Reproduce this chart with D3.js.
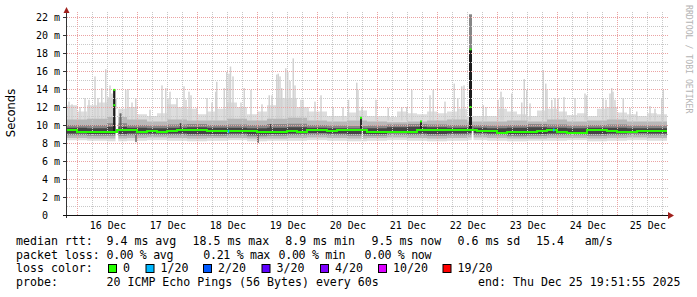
<!DOCTYPE html>
<html>
<head>
<meta charset="utf-8">
<script src="https://cdn.jsdelivr.net/npm/d3@7"></script>
<style>
  body { margin: 0; background: #fff; }
  text { font-family: "DejaVu Sans Mono", monospace; white-space: pre; }
</style>
</head>
<body>
<svg id="chart" width="697" height="297"></svg>
<script>
var startMs = Date.UTC(2025, 11, 15, 19, 51, 55);
var endMs = Date.UTC(2025, 11, 25, 19, 51, 55);
var HOUR = 3600e3;

// sorted ping ranks (ms), one sample every 8 h
var pingLow = [8.3,8.25,8.2,8.25,8.3,8.25,8.2,8.25,8.3,8.2, 8.25,8.25,8.3,8.25,8.2,8.25,8.3,8.25,8.2,8.25, 8.3,8.25,8.2,8.25,8.25,8.3,8.2,8.25,8.3,8.25];
var ping3 = [8.55,8.5,8.5,8.55,8.6,8.55,8.5,8.55,8.55,8.5, 8.5,8.55,8.6,8.55,8.5,8.55,8.6,8.55,8.5,8.55, 8.6,8.55,8.5,8.5,8.55,8.55,8.5,8.55,8.6,8.55];
var ping6 = [8.85,8.8,8.8,8.85,8.85,8.85,8.8,8.8,8.85,8.75, 8.8,8.85,8.9,8.85,8.8,8.8,8.9,8.85,8.8,8.85, 8.9,8.85,8.75,8.8,8.85,8.85,8.8,8.85,8.9,8.85];
var ping8 = [9.05,9.0,9.0,9.05,9.05,9.05,9.0,9.0,9.05,8.95, 9.0,9.05,9.1,9.05,9.0,9.0,9.1,9.05,9.0,9.05, 9.1,9.05,8.95,9.0,9.05,9.05,9.0,9.05,9.1,9.05];
var ping12 = [9.7,9.65,9.8,9.7,9.65,9.7,9.75,9.7,9.7,9.65, 9.7,9.75,9.7,9.65,9.6,9.65,9.75,9.8,9.75,9.7, 9.7,9.65,9.7,9.75,9.7,9.65,9.7,9.7,9.65,9.65];
var ping14 = [10.0,10.0,10.2,10.0,9.95,10.05,10.1,10.0,10.05,10.0, 10.1,10.15,10.0,9.95,9.9,9.95,10.05,10.1,10.05,10.0, 10.0,9.95,10.0,10.1,10.05,9.95,10.0,10.05,9.95,9.95];
var ping17 = [10.6,10.7,10.9,10.6,10.4,10.6,10.5,10.5,10.7,10.5, 10.7,10.8,10.5,10.4,10.5,10.4,10.3,10.4,10.5,10.6, 10.4,10.4,10.5,10.4,10.6,10.4,10.5,10.6,10.4,10.4];

// highest ping (ms), one sample every 4 h
var pingHigh = [12.2,11.5,12.2,12.5,13.0,11.8,12.0,11.2,11.0,11.3,
                12.3,12.0,11.8,11.2,11.5,11.8,12.5,12.0,11.2,11.5,
                12.2,13.0,13.0,12.0,11.5,11.5,11.0,11.0,11.4,11.6,
                11.0,11.0,10.9,11.5,11.3,11.2,11.5,11.3,11.5,11.8,
                11.0,11.0,11.0,11.8,11.5,11.2,11.0,11.6,11.8,11.5,
                11.1,11.3,11.0,11.8,12.0,11.4,11.2,11.0,11.3,11.2];

// median rtt (ms), one sample every 4 h
var median = [9.42,9.22,9.25,9.2,9.22,9.48,9.4,9.25,9.28,9.25,
              9.3,9.42,9.45,9.4,9.38,9.32,9.3,9.28,9.3,9.18,
              9.2,9.25,9.28,9.25,9.4,9.42,9.38,9.4,9.42,9.4,
              9.22,9.2,9.25,9.2,9.22,9.45,9.48,9.45,9.48,9.45,
              9.42,9.35,9.38,9.15,9.18,9.25,9.25,9.3,9.45,9.25,
              9.1,9.15,9.4,9.4,9.38,9.2,9.22,9.35,9.35,9.35];

// short max-ping spikes: hours after start, ms
var spikeHour = [0.8,2.0,5.2,7.2,8.8,11.2,12.4,13.9,15.5,16.4, 17.2,18.0,23.5,24.4,26.0,27.5,33.2,38.0,39.5,40.4,
                 41.2,44.0,46.8,47.6,48.8,49.6,52.0,56.0,58.0,59.5, 59.9,62.9,63.9,64.8,65.4,66.4,69.6,70.9,73.6,78.0,
                 80.9,82.0,83.9,84.5,85.2,85.9,87.5,88.3,89.2,90.5, 91.2,93.6,94.4,96.4,99.2,101.6,106.4,110.4,112.6,115.9,
                 116.4,118.0,123.6,128.5,133.9,135.9,137.9,145.2,146.5,151.2, 154.9,156.3,157.9,158.8,166.5,167.6,172.4,173.6,174.4,177.9,
                 181.9,182.9,183.9,185.2,190.5,191.5,192.0,193.9,195.2,196.4, 198.8,203.2,207.2,207.9,214.4,215.6,217.2,217.9,218.4,219.2,
                 222.5,225.2,227.9,233.2,235.2,237.9,238.5];
var spikeRtt = [12.6,12.3,12.0,13.0,12.8,15.4,13.0,14.1,16.2,13.1, 14.4,13.5,13.9,14.0,12.5,13.0,11.7,14.4,14.1,13.0,
                13.7,13.0,14.3,12.8,13.7,13.3,11.9,13.0,12.5,13.7, 14.8,14.1,15.9,15.7,16.5,15.4,12.5,14.1,13.9,12.3,
                13.3,13.3,15.6,15.7,15.4,14.1,16.3,15.9,14.9,17.4, 14.4,12.8,12.8,12.0,12.6,13.3,12.0,12.0,12.8,14.7,
                13.9,12.0,12.8,11.9,12.0,12.0,13.9,13.3,13.9,12.6, 14.6,13.0,14.3,14.4,12.2,12.0,12.8,13.7,13.1,13.5,
                12.5,15.1,13.9,12.4,16.1,14.6,13.9,12.8,13.0,13.0, 13.1,13.0,13.5,13.3,13.0,12.8,13.5,14.1,13.7,12.8,
                13.0,11.9,11.5,12.1,11.8,13.0,13.9];

// bursts where many pings sit in one range
var burstHour = [18.9, 21.4, 27.6, 45.4, 76.4, 81.4, 117.6, 141.6, 161.4, 161.4];
var burstSpan = [0.9, 0.8, 0.6, 0.6, 0.6, 0.6, 0.7, 0.7, 1.2, 1.2];
var burstLow  = [9.3, 9.6, 8.1, 9.5, 8.0, 9.5, 9.6, 9.6, 9.6, 18.4];
var burstHigh = [13.9, 11.3, 9.2, 10.2, 9.2, 10.1, 10.9, 10.4, 18.4, 22.3];
var burstPings = [20, 12, 12, 16, 14, 16, 20, 20, 20, 9];
var burstMedHour = [18.9, 18.9, 117.6, 141.6, 161.4, 161.4];
var burstMedRtt  = [13.9, 12.2, 10.8, 10.4, 18.4, 12.0];

// no data
var gapFrom = [19.4, 117.9, 161.9];
var gapTo   = [20.5, 118.4, 162.6];
var gapLow  = [7.9, 7.9, 7.9];
var gapHigh = [11.8, 9.6, 9.6];

// samples with loss
var lossHour = [64.3, 194.4];
var lossOf20 = [1, 1];

var lossLabels = ["0", "1/20", "2/20", "3/20", "4/20", "10/20", "19/20"];
var lossColors = ["#26ff00", "#00b8ff", "#0059ff", "#5e00ff", "#7e00ff", "#dd00ff", "#ff0000"];
var rttLegend = ["9.4 ms avg", "18.5 ms max", "8.9 ms min", "9.5 ms now", "0.6 ms sd", "15.4   am/s"];
var lossLegend = ["0.00 % avg", "0.21 % max", "0.00 % min", "0.00 % now"];
var probeText = "20 ICMP Echo Pings (56 Bytes) every 60s";
var endText = "end: Thu Dec 25 19:51:55 2025";

var svg = d3.select("#chart");
var plotLeft = 67, plotRight = 667, plotTop = 15, plotBottom = 215;

var x = d3.scaleUtc().domain([startMs, endMs]).range([plotLeft, plotRight]);
var y = d3.scaleLinear().domain([0, 200 / 9]).range([plotBottom, plotTop]);
var lossColor = d3.scaleOrdinal(lossLabels, lossColors);
var shade = d3.scaleLinear().domain([0, 20]).range(["#dddddd", "#1c1c1c"]);

function at(h) { return new Date(startMs + h * HOUR); }

function stepArea(lo, hi, stepH) {
  var pts = hi.map(function(v, i) { return {t: at(i * stepH), lo: lo[i], hi: v}; });
  pts.push({t: new Date(endMs), lo: lo[lo.length - 1], hi: hi[hi.length - 1]});
  return d3.area()
    .x(function(d) { return x(d.t); })
    .y0(function(d) { return y(d.lo); })
    .y1(function(d) { return y(d.hi); })
    .curve(d3.curveStepAfter)(pts);
}

// smoke
var smoke = svg.append("g");
smoke.append("path")
  .attr("d", stepArea(pingHigh.map(function(v, i) { return pingLow[Math.floor(i / 2)]; }), pingHigh, 4))
  .attr("fill", "#dddddd");

smoke.selectAll("rect.spike").data(spikeHour).enter().append("rect")
  .attr("class", "spike")
  .attr("x", function(d) { return x(at(d)) - 0.75; })
  .attr("width", 1.5)
  .attr("y", function(d, i) { return y(spikeRtt[i]); })
  .attr("height", function(d, i) { return y(10.5) - y(spikeRtt[i]); })
  .attr("fill", "#d2d2d2");

smoke.append("path").attr("d", stepArea(ping3, ping17, 8)).attr("fill", "#b8b8b8");
smoke.append("path").attr("d", stepArea(ping6, ping14, 8)).attr("fill", "#888888");
smoke.append("path").attr("d", stepArea(ping8, ping12, 8)).attr("fill", "#444444");

smoke.selectAll("rect.gap").data(gapFrom).enter().append("rect")
  .attr("class", "gap")
  .attr("x", function(d) { return x(at(d)); })
  .attr("width", function(d, i) { return x(at(gapTo[i])) - x(at(d)); })
  .attr("y", function(d, i) { return y(gapHigh[i]); })
  .attr("height", function(d, i) { return y(gapLow[i]) - y(gapHigh[i]); })
  .attr("fill", "#fff");

smoke.selectAll("rect.burst").data(burstHour).enter().append("rect")
  .attr("class", "burst")
  .attr("x", function(d, i) { return x(at(d - burstSpan[i] / 2)); })
  .attr("width", function(d, i) { return x(at(d + burstSpan[i] / 2)) - x(at(d - burstSpan[i] / 2)); })
  .attr("y", function(d, i) { return y(burstHigh[i]); })
  .attr("height", function(d, i) { return y(burstLow[i]) - y(burstHigh[i]); })
  .attr("fill", function(d, i) { return shade(burstPings[i]); });

// grid
var grid = svg.append("g").attr("shape-rendering", "crispEdges");
function hGrid(values, color) {
  grid.append("g")
    .attr("transform", "translate(" + plotLeft + ",0)")
    .call(d3.axisLeft(y).tickValues(values).tickSize(-(plotRight - plotLeft + 2)).tickFormat(""))
    .call(function(g) { g.select(".domain").remove(); })
    .selectAll("line").attr("stroke", color).attr("stroke-dasharray", "1,1");
}
function vGrid(values, color) {
  grid.append("g")
    .attr("transform", "translate(0," + plotBottom + ")")
    .call(d3.axisBottom(x).tickValues(values).tickSize(-(plotBottom - 12)).tickFormat(""))
    .call(function(g) { g.select(".domain").remove(); })
    .selectAll("line").attr("stroke", color).attr("stroke-dasharray", "1,1");
}
var days = d3.utcDay.range(new Date(startMs), new Date(endMs));
var sixHours = d3.utcHour.every(6).range(new Date(startMs), new Date(endMs))
  .filter(function(d) { return d.getUTCHours() !== 0; });
hGrid(d3.range(1, 23, 2), "#c8c8c8");
vGrid(sixHours, "#c8c8c8");
hGrid(d3.range(2, 23, 2), "#eba3a3");
vGrid(days, "#eba3a3");

// median
svg.append("path")
  .attr("d", d3.line()
    .x(function(d) { return x(d.t); })
    .y(function(d) { return y(d.v); })
    .curve(d3.curveStepAfter)(median.map(function(v, i) { return {t: at(i * 4), v: v}; })
      .concat([{t: new Date(endMs), v: median[median.length - 1]}])))
  .attr("fill", "none")
  .attr("stroke", lossColor("0"))
  .attr("stroke-width", 2)
  .attr("shape-rendering", "crispEdges");

svg.selectAll("rect.loss").data(lossHour).enter().append("rect")
  .attr("class", "loss")
  .attr("x", function(d) { return x(at(d)); })
  .attr("width", 1.5)
  .attr("y", function(d) { return y(median[Math.floor(d / 4)]) - 1.5; })
  .attr("height", 3)
  .attr("fill", function(d, i) { return lossColor(lossOf20[i] + "/20"); });

svg.selectAll("rect.bmed").data(burstMedHour).enter().append("rect")
  .attr("class", "bmed")
  .attr("x", function(d) { return x(at(d - 0.4)); })
  .attr("width", 2)
  .attr("y", function(d, i) { return y(burstMedRtt[i]) - 1; })
  .attr("height", 2)
  .attr("fill", lossColor("0"));

// axes
var yAxis = svg.append("g")
  .attr("transform", "translate(" + plotLeft + ",0)")
  .call(d3.axisLeft(y).tickValues(d3.range(0, 23, 2)).tickSize(4).tickSizeOuter(0).tickPadding(3)
    .tickFormat(function(d) { return d === 0 ? "0  " : d + " m"; }));
yAxis.select(".domain").remove();
yAxis.selectAll("text").attr("font-size", 10).attr("font-family", "DejaVu Sans Mono").attr("fill", "#000");
yAxis.selectAll("line").attr("stroke", "#333");

var xAxis = svg.append("g")
  .attr("transform", "translate(0," + plotBottom + ")")
  .call(d3.axisBottom(x)
    .tickValues(days.map(function(d) { return d3.utcHour.offset(d, 12); }))
    .tickSize(0).tickPadding(6.5)
    .tickFormat(d3.utcFormat("%d %b")));
xAxis.select(".domain").remove();
xAxis.selectAll("text").attr("font-size", 10).attr("font-family", "DejaVu Sans Mono").attr("fill", "#000");

svg.append("line").attr("x1", plotLeft - 0.5).attr("x2", plotLeft - 0.5).attr("y1", plotBottom + 3).attr("y2", 10)
  .attr("stroke", "#333");
svg.append("line").attr("x1", plotLeft - 4).attr("x2", plotRight + 3).attr("y1", plotBottom + 0.5).attr("y2", plotBottom + 0.5)
  .attr("stroke", "#111");
svg.append("path").attr("d", "M63.5,13L69.5,13L66.5,7Z").attr("fill", "#a0201c");
svg.append("path").attr("d", "M668,212L668,219L674,215.5Z").attr("fill", "#a0201c");

// titles
svg.append("text")
  .attr("transform", "translate(15,113) rotate(-90)")
  .attr("text-anchor", "middle")
  .style("font-family", "DejaVu Sans")
  .attr("font-size", 11.5)
  .attr("fill", "#000")
  .text("Seconds");

svg.append("text")
  .attr("transform", "translate(685.5,5) rotate(90)")
  .attr("font-size", 8.2)
  .attr("fill", "#b4b4b4")
  .text("RRDTOOL / TOBI OETIKER");

// legend
var legend = svg.append("g").attr("font-size", 11.6).attr("fill", "#000");
var rows = [245, 258.5, 272, 285.5];
legend.append("text").attr("x", 16).attr("y", rows[0]).text("median rtt:");
legend.append("text").attr("x", 16).attr("y", rows[1]).text("packet loss:");
legend.append("text").attr("x", 16).attr("y", rows[2]).text("loss color:");
legend.append("text").attr("x", 16).attr("y", rows[3]).text("probe:");

var rttX = [106.5, 192.5, 285.3, 371.5, 457.5, 536];
legend.selectAll("text.rtt").data(rttLegend).enter().append("text")
  .attr("class", "rtt")
  .attr("x", function(d, i) { return rttX[i]; }).attr("y", rows[0]).text(function(d) { return d; });
var lossX = [106.5, 203.3, 278.6, 364.5];
legend.selectAll("text.pl").data(lossLegend).enter().append("text")
  .attr("class", "pl")
  .attr("x", function(d, i) { return lossX[i]; }).attr("y", rows[1])
  .attr("textLength", 67).attr("lengthAdjust", "spacing")
  .text(function(d) { return d; });

var boxX = [108.5, 146, 203.5, 262, 320.5, 378.5, 443];
legend.selectAll("rect.key").data(lossLabels).enter().append("rect")
  .attr("class", "key")
  .attr("x", function(d, i) { return boxX[i]; })
  .attr("y", rows[2] - 7.5)
  .attr("width", 8).attr("height", 8)
  .attr("fill", function(d) { return lossColor(d); })
  .attr("stroke", "#000").attr("stroke-width", 1);
legend.selectAll("text.key").data(lossLabels).enter().append("text")
  .attr("class", "key")
  .attr("x", function(d, i) { return boxX[i] + 14.5; }).attr("y", rows[2]).text(function(d) { return d; });

legend.append("text").attr("x", 106.5).attr("y", rows[3]).text(probeText);
legend.append("text").attr("x", 680.5).attr("y", rows[3]).attr("text-anchor", "end").text(endText);
</script>
</body>
</html>
